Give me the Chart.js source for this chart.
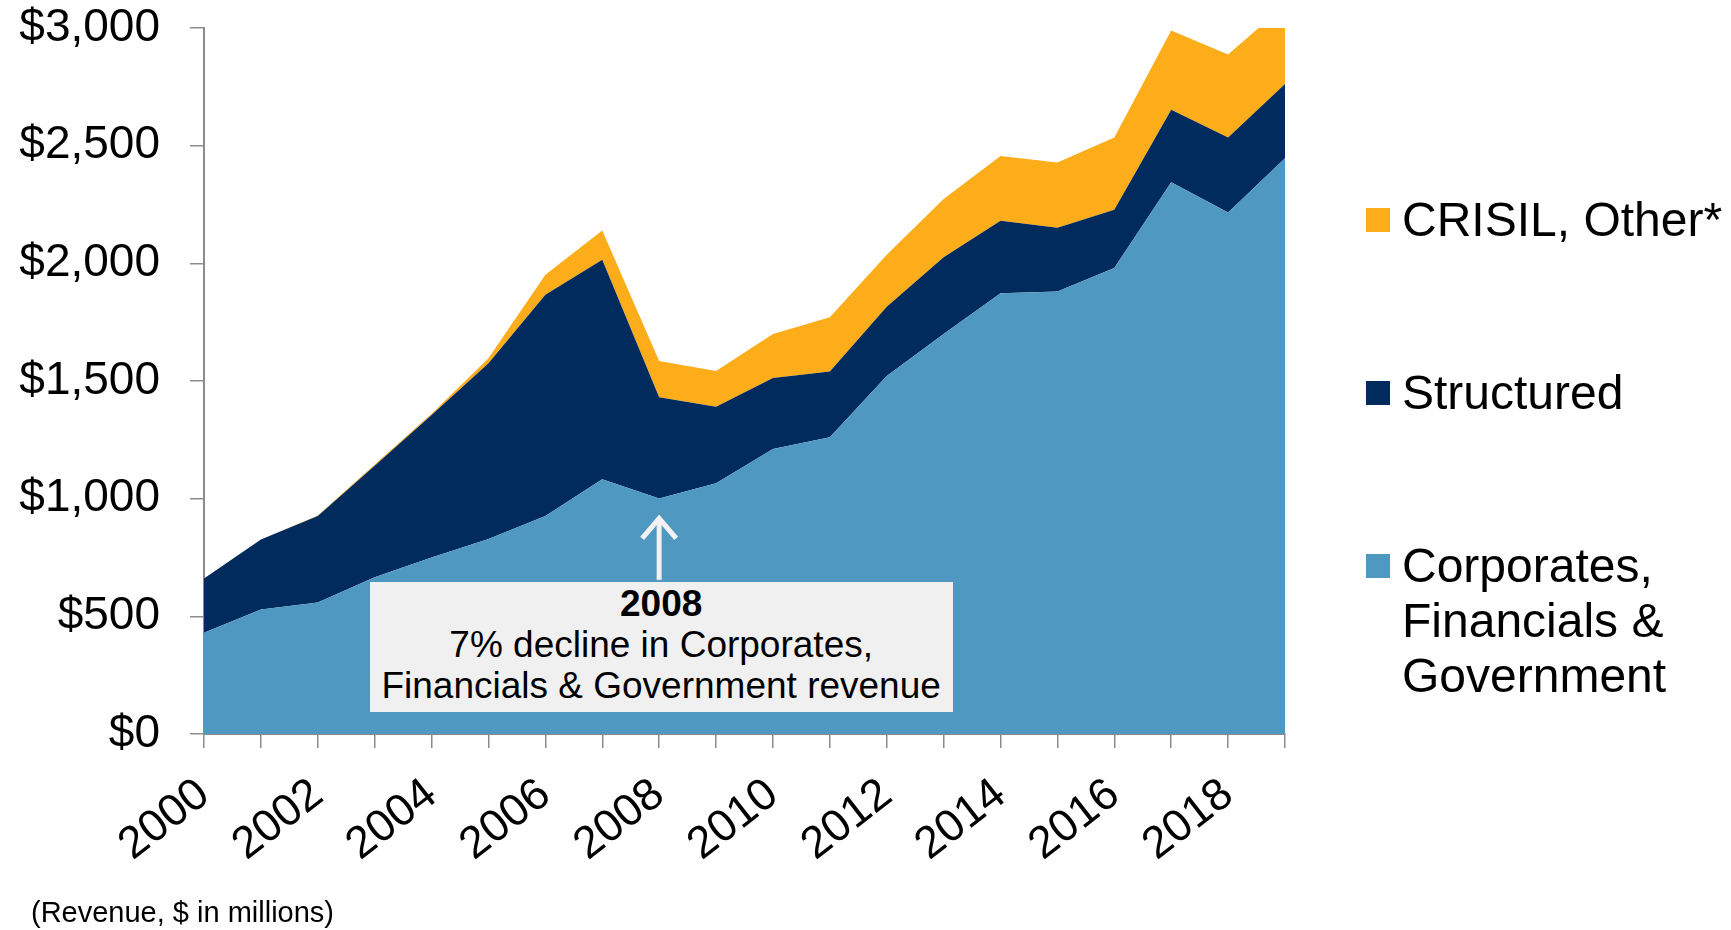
<!DOCTYPE html>
<html>
<head>
<meta charset="utf-8">
<script src="https://cdn.jsdelivr.net/npm/chart.js@4.4.1/dist/chart.umd.min.js"></script>
<style>
    html, body { margin: 0; padding: 0; background: #fff; }
    #wrap { position: relative; width: 1731px; height: 930px; font-family: 'Liberation Sans', Arial, sans-serif; color: #000; }
    #revenueChart { position: absolute; left: 0; top: 0; }
    .legend-item { position: absolute; left: 1366px; }
    .legend-item .swatch { position: absolute; left: 0; width: 24px; height: 24px; }
    .legend-item .label { position: absolute; left: 36px; font-size: 48px; line-height: 55px; white-space: nowrap; }
    #note { position: absolute; left: 31px; top: 898px; font-size: 29px; line-height: 29px; white-space: nowrap; }
    #callout { position: absolute; background: #f0f0f0; text-align: center; font-size: 37px; line-height: 41px; white-space: nowrap; box-sizing: border-box; padding-top: 1px; }
    #callout b { font-weight: bold; }
</style>
</head>
<body>
<div id="wrap">
    <canvas id="revenueChart" width="1731" height="930"></canvas>
    <div id="legend"></div>
    <div id="callout"><b>2008</b><br>7% decline in Corporates,<br>Financials &amp; Government revenue</div>
    <div id="note">(Revenue, $ in millions)</div>
</div>
<script>
(function() {
    'use strict';

    // Годы и выручка по сегментам, млн $
    const years = ['2000', '2001', '2002', '2003', '2004', '2005', '2006', '2007', '2008', '2009',
                   '2010', '2011', '2012', '2013', '2014', '2015', '2016', '2017', '2018', '2019'];
    const corporates = [430, 529, 559, 666, 750, 829, 926, 1082, 1001, 1065,
                        1211, 1261, 1521, 1700, 1873, 1880, 1980, 2345, 2216, 2447];
    const structured = [231, 298, 367, 474, 605, 746, 940, 933, 430, 326,
                        302, 279, 295, 326, 308, 271, 248, 308, 319, 315];
    const crisilOther = [0, 0, 2, 5, 6, 22, 85, 125, 154, 152,
                         187, 231, 220, 247, 275, 278, 307, 336, 352, 336];
    const yTicks = [0, 500, 1000, 1500, 2000, 2500, 3000];

    const COLOR_CORP = '#4f98c1';
    const COLOR_STRUCT = '#002b5c';
    const COLOR_OTHER = '#fdad1a';
    const AXIS_GRAY = '#8c8c8c';
    const FONT = "'Liberation Sans', Arial, sans-serif";

    const legendItems = [
        { text: 'CRISIL, Other*', color: COLOR_OTHER, top: 208 },
        { text: 'Structured', color: COLOR_STRUCT, top: 381 },
        { text: 'Corporates,<br>Financials &amp;<br>Government', color: COLOR_CORP, top: 554 }
    ];

    const legendEl = document.getElementById('legend');
    legendItems.forEach(function(item) {
        const row = document.createElement('div');
        row.className = 'legend-item';
        row.style.top = item.top + 'px';
        row.innerHTML = '<div class="swatch" style="background:' + item.color + '"></div>' +
            '<div class="label" style="top:-16px">' + item.text + '</div>';
        legendEl.appendChild(row);
    });

    // Стрелка над выноской 2008
    const arrowPlugin = {
        id: 'arrow2008',
        afterDatasetsDraw: function(chart) {
            const ctx = chart.ctx;
            const x = chart.scales.x.getPixelForValue(years.indexOf('2008'));
            const yTip = chart.scales.y.getPixelForValue(925);
            const yBase = chart.scales.y.getPixelForValue(655);
            ctx.save();
            ctx.strokeStyle = '#f2f2f2';
            ctx.lineWidth = 5;
            ctx.beginPath();
            ctx.moveTo(x, yBase);
            ctx.lineTo(x, yTip + 2);
            ctx.stroke();
            ctx.beginPath();
            ctx.moveTo(x - 17, yTip + 22);
            ctx.lineTo(x, yTip + 2);
            ctx.lineTo(x + 17, yTip + 22);
            ctx.stroke();
            ctx.restore();
        }
    };

    const chart = new Chart(document.getElementById('revenueChart').getContext('2d'), {
        type: 'line',
        data: {
            labels: years,
            datasets: [{
                label: 'Corporates, Financials & Government',
                data: corporates,
                backgroundColor: COLOR_CORP,
                borderWidth: 0,
                pointRadius: 0,
                fill: 'origin'
            }, {
                label: 'Structured',
                data: structured,
                backgroundColor: COLOR_STRUCT,
                borderWidth: 0,
                pointRadius: 0,
                fill: '-1'
            }, {
                label: 'CRISIL, Other*',
                data: crisilOther,
                backgroundColor: COLOR_OTHER,
                borderColor: COLOR_OTHER,
                borderWidth: 0,
                pointRadius: 0,
                fill: '-1'
            }]
        },
        options: {
            responsive: false,
            animation: false,
            events: [],
            layout: {
                padding: { top: 28, right: 446, bottom: 0, left: 0 }
            },
            plugins: {
                legend: { display: false },
                tooltip: { enabled: false }
            },
            scales: {
                x: {
                    offset: false,
                    border: { display: true, color: AXIS_GRAY, width: 2 },
                    grid: {
                        display: true,
                        drawOnChartArea: false,
                        drawTicks: true,
                        tickLength: 14,
                        color: AXIS_GRAY,
                        lineWidth: 1.5
                    },
                    ticks: {
                        autoSkip: false,
                        maxRotation: 38,
                        minRotation: 38,
                        padding: 20,
                        color: '#000',
                        font: { family: FONT, size: 45 },
                        callback: function(value, index) {
                            return index % 2 === 0 ? years[index] : '';
                        }
                    },
                    afterFit: function(scale) {
                        scale.height = 196;
                        scale.paddingLeft = 0;
                        scale.paddingRight = 0;
                    }
                },
                y: {
                    stacked: true,
                    min: 0,
                    max: 3000,
                    afterBuildTicks: function(scale) {
                        scale.ticks = yTicks.map(function(v) { return { value: v }; });
                    },
                    border: { display: true, color: AXIS_GRAY, width: 2 },
                    grid: {
                        display: true,
                        drawOnChartArea: false,
                        drawTicks: true,
                        tickLength: 14,
                        color: AXIS_GRAY,
                        lineWidth: 1.5
                    },
                    ticks: {
                        padding: 30,
                        color: '#000',
                        font: { family: FONT, size: 46, lineHeight: 1 },
                        callback: function(value) {
                            return '$' + Number(value).toLocaleString('en-US');
                        }
                    },
                    afterFit: function(scale) {
                        scale.width = 204;
                        scale.paddingTop = 0;
                        scale.paddingBottom = 0;
                    }
                }
            }
        },
        plugins: [arrowPlugin]
    });

    // Выноска по 2008 году, привязанная к шкалам
    const callout = document.getElementById('callout');
    const cx = chart.scales.x.getPixelForValue(years.indexOf('2008')) + 2;
    const boxTop = chart.scales.y.getPixelForValue(645);
    const boxBottom = chart.scales.y.getPixelForValue(94);
    const boxWidth = 583;
    callout.style.left = (cx - boxWidth / 2) + 'px';
    callout.style.width = boxWidth + 'px';
    callout.style.top = boxTop + 'px';
    callout.style.height = (boxBottom - boxTop) + 'px';
})();
</script>
</body>
</html>
